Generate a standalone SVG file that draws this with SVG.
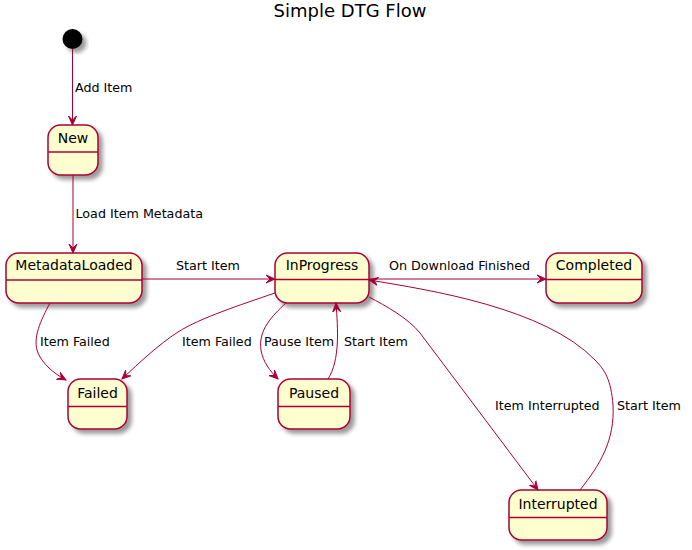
<svg xmlns="http://www.w3.org/2000/svg" width="692" height="550" viewBox="0 0 692 550">
<style>
.st{fill:#FEFECE;stroke:#A80036;stroke-width:1.5;filter:url(#sh)}
.dv{stroke:#A80036;stroke-width:1.5}
.nm{font-family:"DejaVu Sans",sans-serif;font-size:14px;fill:#000;text-anchor:middle}
.lb{font-family:"DejaVu Sans",sans-serif;font-size:12.7px;fill:#000}
.ln{fill:none;stroke:#A80036;stroke-width:1;marker-end:url(#arr)}
</style>
<defs>
<filter id="sh" x="-20%" y="-20%" width="150%" height="150%">
<feGaussianBlur in="SourceAlpha" stdDeviation="2"/>
<feOffset dx="4" dy="4" result="b"/>
<feComponentTransfer><feFuncA type="linear" slope="0.4"/></feComponentTransfer>
<feMerge><feMergeNode/><feMergeNode in="SourceGraphic"/></feMerge>
</filter>
<marker id="arr" viewBox="0 -5 10 10" refX="9" refY="0" markerWidth="10" markerHeight="10" markerUnits="userSpaceOnUse" orient="auto">
<path d="M0,-4 L9,0 L0,4 L4,0 Z" fill="#A80036" stroke="#A80036" stroke-width="1"/>
</marker>
</defs>
<rect width="692" height="550" fill="#fff"/>
<text x="350" y="17" font-family="DejaVu Sans, sans-serif" font-size="18" text-anchor="middle">Simple DTG Flow</text>

<g id="start"><circle cx="72.5" cy="39" r="10" fill="#000" filter="url(#sh)"/></g>
<g id="New"><rect class="st" x="48" y="125" width="50" height="50" rx="12.5"/><line class="dv" x1="48" y1="152" x2="98" y2="152"/><text class="nm" x="73" y="143">New</text></g>
<g id="MetadataLoaded"><rect class="st" x="6" y="253" width="136" height="50" rx="12.5"/><line class="dv" x1="6" y1="280" x2="142" y2="280"/><text class="nm" x="74" y="270">MetadataLoaded</text></g>
<g id="InProgress"><rect class="st" x="275" y="253" width="94" height="50" rx="12.5"/><line class="dv" x1="275" y1="279.5" x2="369" y2="279.5"/><text class="nm" x="322" y="270">InProgress</text></g>
<g id="Completed"><rect class="st" x="546" y="253" width="96" height="50" rx="12.5"/><line class="dv" x1="546" y1="279.5" x2="642" y2="279.5"/><text class="nm" x="594" y="270">Completed</text></g>
<g id="Failed"><rect class="st" x="68" y="379" width="59" height="50" rx="12.5"/><line class="dv" x1="68" y1="406.5" x2="127" y2="406.5"/><text class="nm" x="97.5" y="398">Failed</text></g>
<g id="Paused"><rect class="st" x="278" y="379" width="72" height="50" rx="12.5"/><line class="dv" x1="278" y1="406.5" x2="350" y2="406.5"/><text class="nm" x="314" y="398">Paused</text></g>
<g id="Interrupted"><rect class="st" x="509" y="490" width="98" height="50" rx="12.5"/><line class="dv" x1="509" y1="517.5" x2="607" y2="517.5"/><text class="nm" x="558" y="509">Interrupted</text></g>

<g id="connectors">
<path class="ln" d="M72.5,49 L72.5,125"/>
<text class="lb" x="75" y="92">Add Item</text>
<path class="ln" d="M73,175 L73,253"/>
<text class="lb" x="75.5" y="218">Load Item Metadata</text>
<path class="ln" d="M142,279 L275,279"/>
<text class="lb" x="176" y="270">Start Item</text>
<path class="ln" d="M369,279 L546,279"/>
<text class="lb" x="389" y="270">On Download Finished</text>
<path class="ln" d="M50,303 C41,320 32,338 38,353 C43,364 53,373 66,380"/>
<text class="lb" x="40" y="346">Item Failed</text>
<path class="ln" d="M275,293 C240,305 200,318 178,332 C158,345 140,362 122,379"/>
<text class="lb" x="182" y="346">Item Failed</text>
<path class="ln" d="M286,303 C272,316 258,330 261,350 C263,362 270,371 278,379"/>
<text class="lb" x="264" y="346">Pause Item</text>
<path class="ln" d="M328,379 C340,360 338,330 336,303"/>
<text class="lb" x="344" y="346">Start Item</text>
<path class="ln" d="M369,297 C386,306 408,318 420,333 L538,490"/>
<text class="lb" x="495" y="410">Item Interrupted</text>
<path class="ln" d="M580,490 C600,465 615,440 613,405 C611,380 605,370 595,360 C545,308 430,290 369,280"/>
<text class="lb" x="617" y="410">Start Item</text>
</g>
</svg>
